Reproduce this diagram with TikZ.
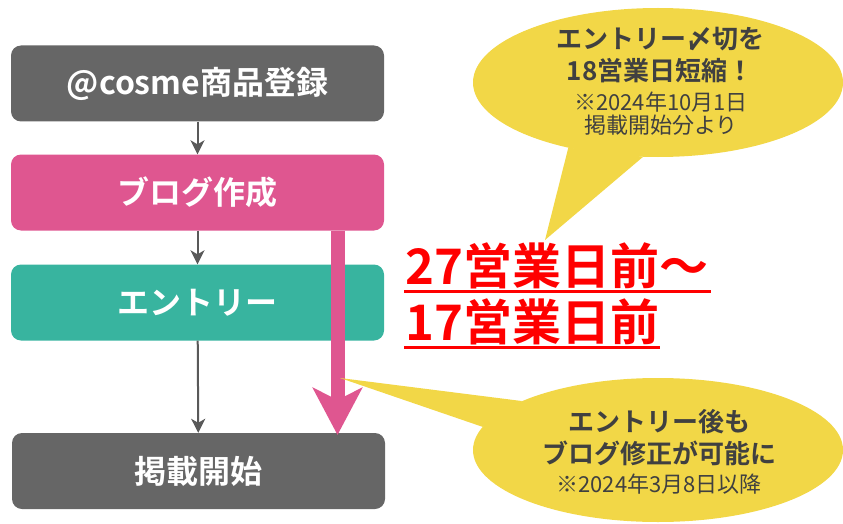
\documentclass[tikz,border=0pt]{standalone}
\usepackage{fontspec}
\setmainfont{Noto Sans CJK JP}[BoldFont={Noto Sans CJK JP Bold}]
\usetikzlibrary{arrows.meta,calc}

\definecolor{boxgray}{HTML}{666666}
\definecolor{blogpink}{HTML}{DF5690}
\definecolor{entryteal}{HTML}{38B49F}
\definecolor{memoyellow}{HTML}{F2D747}
\definecolor{memotext}{HTML}{404040}
\definecolor{arrowgray}{HTML}{595959}
\definecolor{alertred}{HTML}{FF0000}

\begin{document}
\begin{tikzpicture}[x=1pt,y=-1pt,
  stepbox/.style={rectangle, rounded corners=10pt, minimum width=373pt,
    minimum height=76pt, text=white, font=\bfseries\fontsize{32}{32}\selectfont},
  flow/.style={draw=arrowgray, line width=2pt,
    -{Stealth[length=14pt,width=14pt,inset=4pt]}},
  blogline/.style={draw=blogpink, line width=14pt,
    -{Stealth[length=47pt,width=49pt,inset=12pt]}},
  memo/.style={fill=memoyellow},
  memohead/.style={text=memotext, align=center,
    font=\bfseries\fontsize{26}{32}\selectfont},
  memonote/.style={text=memotext, align=center,
    font=\fontsize{22}{23}\selectfont},
  alert/.style={text=alertred, anchor=base west, inner sep=0pt,
    font=\bfseries\fontsize{49}{49}\selectfont},
  uline/.style={draw=alertred, line width=3pt}]
  \useasboundingbox (0,0) rectangle (843,524);

  % the four steps
  \node[stepbox, fill=boxgray]   (cosme) at (197.5,83.5)  {@cosme商品登録};
  \node[stepbox, fill=blogpink]  (blog)  at (197.5,192.5) {ブログ作成};
  \node[stepbox, fill=entryteal] (entry) at (197.5,302.5) {エントリー};
  \node[stepbox, fill=boxgray]   (start) at (198.5,471)   {掲載開始};

  \draw[flow] (cosme) -- (blog);
  \draw[flow] (blog) -- (entry);
  \draw[flow] (entry) -- (start);

  % blog can be edited until publication
  \coordinate (blogend) at (337.5,435);
  \draw[blogline] (blog.south -| blogend) -- (blogend);

  % days before publication
  \node[alert] (daysA) at (405,284) {27営業日前～};
  \node[alert] (daysB) at (405,340) {17営業日前};
  \draw[uline] ($(daysA.base west)+(-1,7)$) -- ($(daysA.base east)+(3,7)$);
  \draw[uline] ($(daysB.base west)+(-1,7)$) -- ($(daysB.base east)+(1,7)$);

  % upper speech bubble
  \coordinate (memoA) at (658,82.5);
  \coordinate (tipA) at (545,240);
  \fill[memo] (memoA) ellipse [x radius=185pt, y radius=74.5pt];
  \fill[memo] ($(memoA)+(241:185pt and 74.5pt)$) -- (tipA)
    -- ($(memoA)+(265.4:185pt and 74.5pt)$) -- cycle;
  \node[memohead] (headA) at (660,55.5) {エントリー〆切を\\18営業日短縮！};
  \node[memonote] (noteA) at (661,113.5) {※2024年10月1日\\掲載開始分より};

  % lower speech bubble
  \coordinate (memoB) at (658,450);
  \coordinate (tipB) at (340,378);
  \fill[memo] (memoB) ellipse [x radius=185pt, y radius=72pt];
  \fill[memo] ($(memoB)+(137.2:185pt and 72pt)$) -- (tipB)
    -- ($(memoB)+(161.3:185pt and 72pt)$) -- cycle;
  \node[memohead] (headB) at (659,438) {エントリー後も\\ブログ修正が可能に};
  \node[memonote] (noteB) at (659,484) {※2024年3月8日以降};
\end{tikzpicture}
\end{document}
